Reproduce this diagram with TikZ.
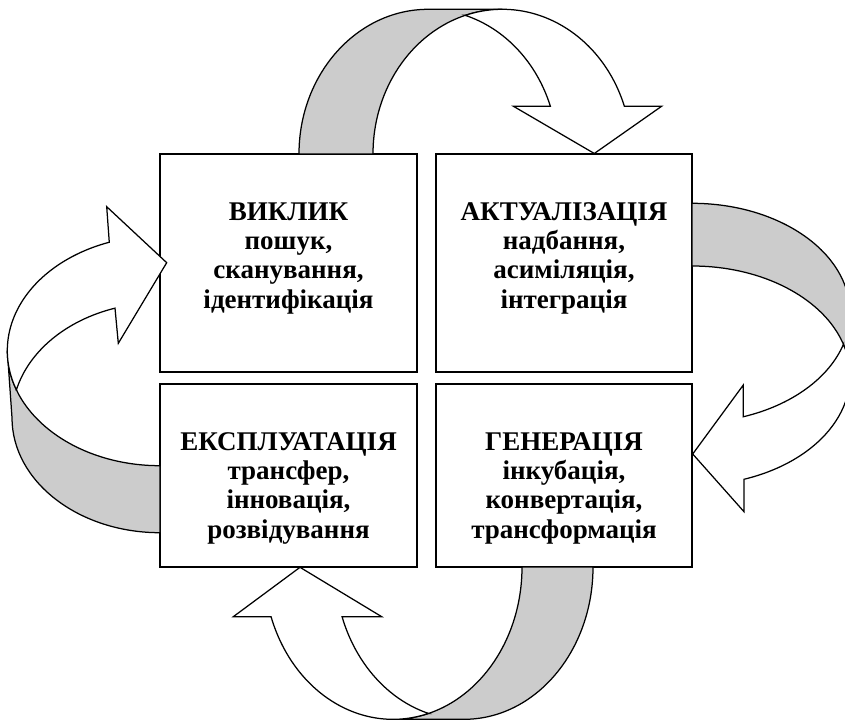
\documentclass[tikz,border=0pt]{standalone}
\usepackage{fontspec}
\setmainfont{Liberation Serif}
\definecolor{bandgray}{RGB}{204,204,204}
\begin{document}
\begin{tikzpicture}[x=1pt,y=1pt,
  box/.style={draw,line width=1.5pt,fill=white,inner sep=0pt},
  boxtext/.style={font=\bfseries\fontsize{27}{29.3}\selectfont,align=center,inner sep=0pt,anchor=north},
  back/.style={draw,line width=1.25pt,fill=bandgray,line join=miter},
  front/.style={draw,line width=1.25pt,fill=white,line join=miter},
  topell/.style={x radius=129.3pt,y radius=144.7pt},
  rightell/.style={x radius=158pt,y radius=109.7pt},
  bottomell/.style={x radius=129pt,y radius=152.3pt},
  leftupper/.style={x radius=152.7pt,y radius=115pt},
  leftlower/.style={x radius=148pt,y radius=115pt}]
\useasboundingbox (0,0) rectangle (845,-722);
\clip (0,0) rectangle (845,-722);

% the four stage boxes
\node[box,minimum width=257pt,minimum height=218pt] (tl) at (288.5,-263) {};
\node[box,minimum width=256pt,minimum height=218pt] (tr) at (564,-263) {};
\node[box,minimum width=257pt,minimum height=183pt] (bl) at (288.5,-475.5) {};
\node[box,minimum width=256pt,minimum height=183pt] (br) at (564,-475.5) {};

\node[boxtext] (tltext) at ([yshift=-49pt]tl.north) {ВИКЛИК\\пошук,\\сканування,\\ідентифікація};
\node[boxtext] (trtext) at ([yshift=-49pt]tr.north) {АКТУАЛІЗАЦІЯ\\надбання,\\асиміляція,\\інтеграція};
\node[boxtext] (bltext) at ([yshift=-49pt]bl.north) {ЕКСПЛУАТАЦІЯ\\трансфер,\\інновація,\\розвідування};
\node[boxtext] (brtext) at ([yshift=-49pt]br.north) {ГЕНЕРАЦІЯ\\інкубація,\\конвертація,\\трансформація};

% top ribbon arrow: from ВИКЛИК to АКТУАЛІЗАЦІЯ
\path[back] (299,-154) arc[topell,start angle=180,end angle=90] -- (502.3,-9.3)
  arc[topell,start angle=90,end angle=180] -- cycle;
\path[front] ([shift={(502.3,-154)}]106.6:129.3pt and 144.7pt)
  arc[topell,start angle=106.6,end angle=19.3]
  -- (661.7,-106.2) -- (594.3,-153.5) -- (513.3,-106.2)
  -- ([shift={(428.3,-154)}]19.3:129.3pt and 144.7pt)
  arc[topell,start angle=19.3,end angle=73.4] -- cycle;

% right ribbon arrow: from АКТУАЛІЗАЦІЯ to ГЕНЕРАЦІЯ
\path[back] (692,-203.3) arc[rightell,start angle=90,end angle=0] -- (850,-375.7)
  arc[rightell,start angle=0,end angle=90] -- cycle;
\path[front] ([shift={(692,-375.7)}]16.6:158pt and 109.7pt)
  arc[rightell,start angle=16.6,end angle=-70.8]
  -- (744,-511.7) -- (692.7,-454) -- (743.3,-385)
  -- ([shift={(692,-313)}]-71.05:158pt and 109.7pt)
  arc[rightell,start angle=-71.05,end angle=-16.6] -- cycle;

% bottom ribbon arrow: from ГЕНЕРАЦІЯ to ЕКСПЛУАТАЦІЯ
\path[back] (593,-567) arc[bottomell,start angle=0,end angle=-90] -- (393,-719.3)
  arc[bottomell,start angle=-90,end angle=0] -- cycle;
\path[front] ([shift={(393,-567)}]-74.03:129pt and 152.3pt)
  arc[bottomell,start angle=-74.03,end angle=-160.96]
  -- (233.3,-616.7) -- (300,-567.3) -- (381.7,-616.7)
  -- ([shift={(464,-567)}]-160.96:129pt and 152.3pt)
  arc[bottomell,start angle=-160.96,end angle=-105.97] -- cycle;

% left ribbon arrow: from ЕКСПЛУАТАЦІЯ to ВИКЛИК
\path[back] (160,-532.7) arc[leftlower,start angle=-90,end angle=-180] -- (7.3,-350.7)
  arc[leftupper,start angle=180,end angle=270] -- cycle;
\path[front] ([shift={(160,-350.7)}]199.98:152.7pt and 115pt)
  arc[leftupper,start angle=199.98,end angle=109.4]
  -- (106.7,-206.7) -- (166.7,-262.7) -- (118.3,-343.3)
  -- ([shift={(160,-417.7)}]107.7:148pt and 115pt)
  arc[leftlower,start angle=107.7,end angle=166.06] -- cycle;
\end{tikzpicture}
\end{document}
